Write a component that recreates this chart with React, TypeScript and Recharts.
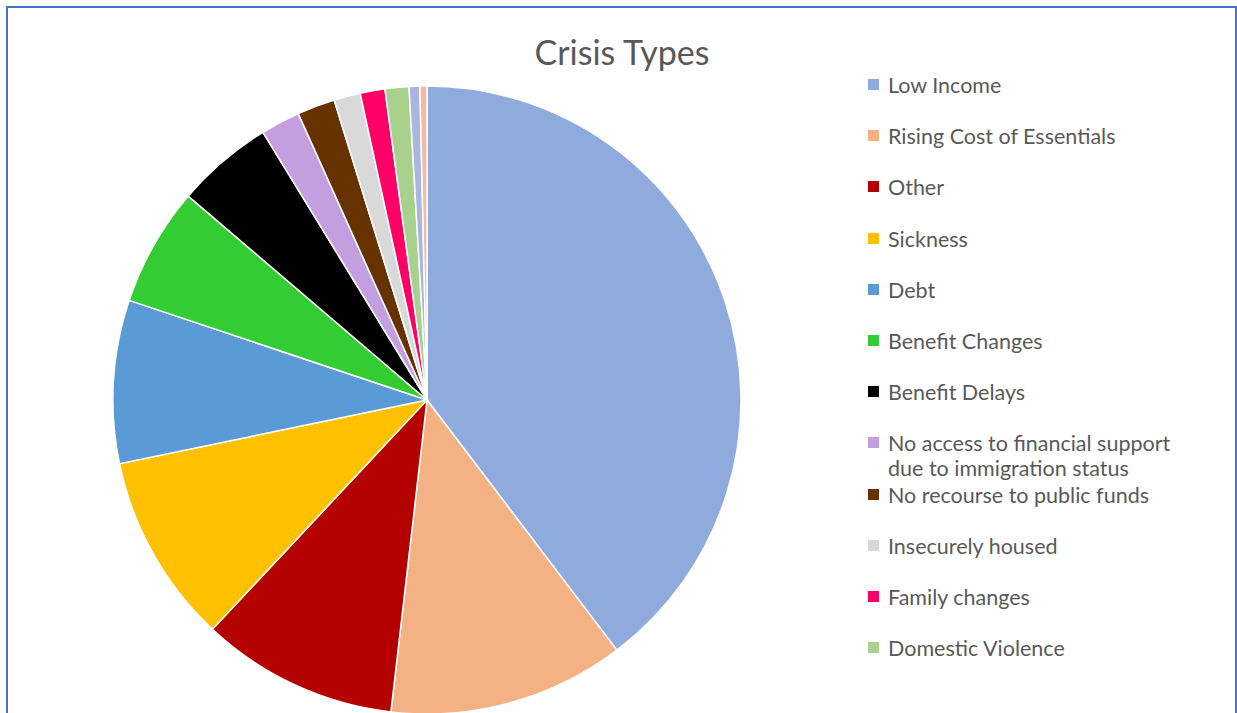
import React from "react";
import { PieChart, Pie, Cell, Legend } from "recharts";

const categories = [
  "Low Income",
  "Rising Cost of Essentials",
  "Other",
  "Sickness",
  "Debt",
  "Benefit Changes",
  "Benefit Delays",
  "No access to financial support due to immigration status",
  "No recourse to public funds",
  "Insecurely housed",
  "Family changes",
  "Domestic Violence",
  "Category 13",
  "Category 14",
];

const values = [142.8, 43.8, 36.5, 35.2, 30.2, 22, 18, 7.3, 7, 4.9, 4.6, 4.4, 2, 1.3];

const colors = [
  "#8FAADC",
  "#F4B183",
  "#B50000",
  "#FFC000",
  "#5B9BD5",
  "#33CC33",
  "#000000",
  "#C39FE0",
  "#663300",
  "#D9D9D9",
  "#FF0066",
  "#A9D18E",
  "#A9B6DD",
  "#F4B9A3",
];

const legendCount = 12;
const title = "Crisis Types";

const data = categories.map((name, i) => ({ name, value: values[i] }));

const FONT = "Lato, 'Open Sans', sans-serif";

const LegendContent = () => (
  <div style={{ position: "relative", width: 360, height: 620, fontFamily: FONT }}>
    {categories.slice(0, legendCount).map((name, i) => (
      <div
        key={name}
        style={{
          position: "absolute",
          left: 0,
          top: i * 51.2,
          display: "flex",
          alignItems: "flex-start",
        }}
      >
        <div
          style={{
            width: 11,
            height: 11,
            background: colors[i],
            marginTop: 6,
            marginRight: 9,
            flex: "none",
          }}
        />
        <div
          style={{
            fontSize: 21.5,
            lineHeight: "25px",
            color: "#595959",
            width: 305,
          }}
        >
          {name}
        </div>
      </div>
    ))}
  </div>
);

export default function App() {
  return (
    <div
      style={{
        position: "absolute",
        left: 0,
        top: 0,
        width: 1237,
        height: 713,
        overflow: "hidden",
        background: "#fff",
      }}
    >
      <div
        style={{
          position: "absolute",
          left: 6,
          top: 6,
          width: 1231,
          height: 800,
          border: "2px solid #4472C4",
          boxSizing: "border-box",
        }}
      />
      <div
        style={{
          position: "absolute",
          left: 422,
          width: 400,
          top: 29,
          textAlign: "center",
          fontFamily: FONT,
          fontSize: 34,
          color: "#595959",
          lineHeight: "46px",
        }}
      >
        {title}
      </div>
      <div style={{ position: "absolute", left: 0, top: 0 }}>
        <PieChart width={1237} height={760} margin={{ top: 0, right: 0, bottom: 0, left: 0 }}>
          <Pie
            data={data}
            dataKey="value"
            nameKey="name"
            cx={427}
            cy={400}
            outerRadius={314}
            startAngle={90}
            endAngle={-270}
            stroke="#ffffff"
            strokeWidth={1.5}
            isAnimationActive={false}
          >
            {data.map((d, i) => (
              <Cell key={d.name} fill={colors[i]} />
            ))}
          </Pie>
          <Legend
            layout="vertical"
            align="right"
            verticalAlign="top"
            content={() => <LegendContent />}
            wrapperStyle={{ left: 868, top: 73, width: 360, right: "auto" }}
          />
        </PieChart>
      </div>
    </div>
  );
}
